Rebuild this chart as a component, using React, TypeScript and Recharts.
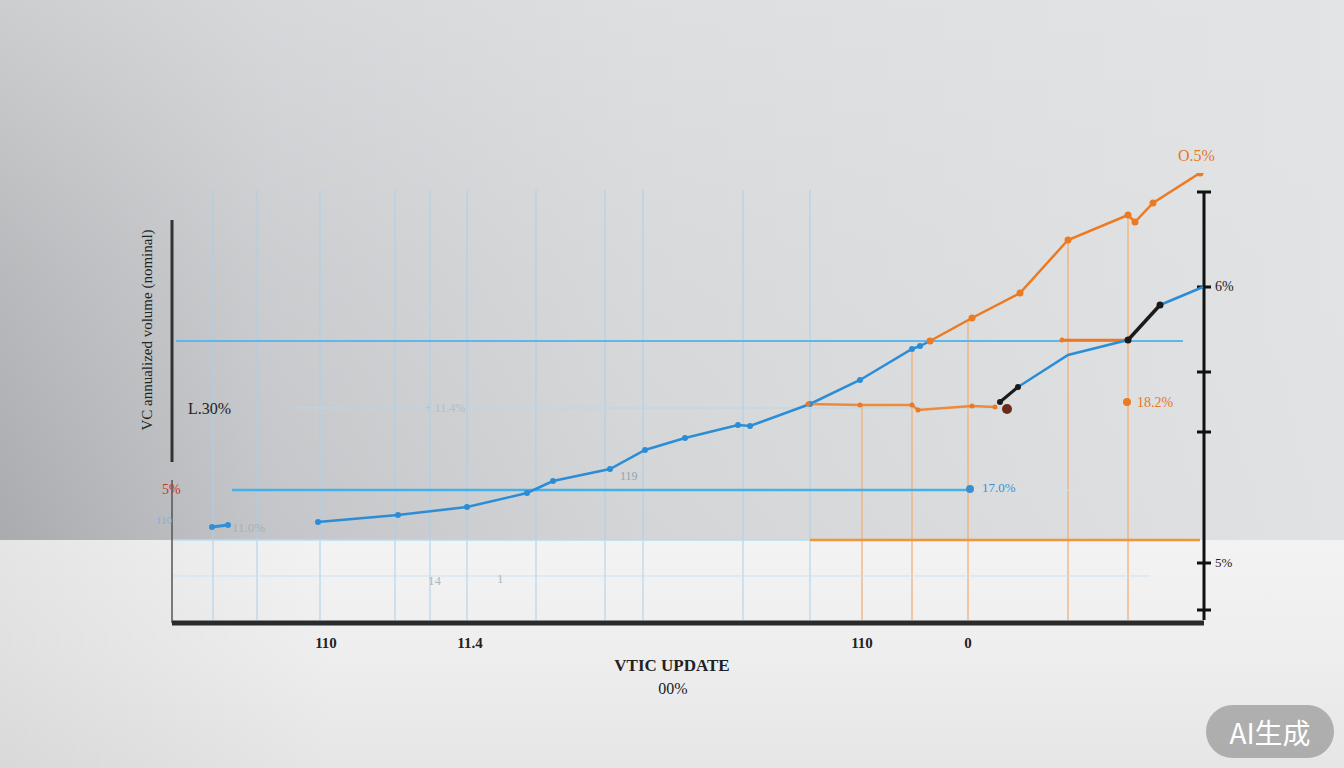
import React from 'react';
import { ComposedChart, Line, XAxis, YAxis, ReferenceLine, ReferenceDot } from 'recharts';

// main blue trend (x = index position, y = value)
const blueStart = [
  { x: 4.0, y: 9.6 },
  { x: 5.6, y: 9.8 },
];
const blueMain = [
  { x: 14.6, y: 10.1 },
  { x: 22.6, y: 10.8 },
  { x: 29.5, y: 11.6 },
  { x: 35.5, y: 13.0 },
  { x: 38.1, y: 14.2 },
  { x: 43.8, y: 15.4 },
  { x: 47.3, y: 17.3 },
  { x: 51.3, y: 18.5 },
  { x: 56.6, y: 19.8 },
  { x: 57.8, y: 19.7 },
  { x: 63.8, y: 21.9 },
  { x: 68.8, y: 24.3 },
  { x: 74.0, y: 27.4 },
  { x: 74.8, y: 27.7 },
  { x: 75.8, y: 28.2 },
];
const orangeUpper = [
  { x: 75.8, y: 28.2 },
  { x: 80.0, y: 30.5 },
  { x: 84.8, y: 33.0 },
  { x: 89.6, y: 38.3 },
  { x: 95.6, y: 40.8 },
  { x: 96.3, y: 40.1 },
  { x: 98.1, y: 42.0 },
  { x: 102.8, y: 45.0 },
];
const orangeLow = [
  { x: 63.6, y: 21.9 },
  { x: 68.8, y: 21.8 },
  { x: 74.0, y: 21.8 },
  { x: 74.6, y: 21.3 },
  { x: 80.0, y: 21.7 },
  { x: 82.3, y: 21.6 },
];
const orangeShort = [
  { x: 89.0, y: 28.3 },
  { x: 95.6, y: 28.3 },
];
const blueRight = [
  { x: 84.6, y: 23.6 },
  { x: 89.6, y: 26.8 },
  { x: 95.6, y: 28.3 },
];
const blueEnd = [
  { x: 98.8, y: 31.8 },
  { x: 103.1, y: 33.6 },
];
const blackA = [
  { x: 82.8, y: 22.1 },
  { x: 84.6, y: 23.6 },
];
const blackB = [
  { x: 95.6, y: 28.3 },
  { x: 98.8, y: 31.8 },
];

const xTicks = [15.4, 29.8, 69, 79.6];
const xTickLabels = ['110', '11.4', '110', '0'];

const blueGrid = [4.1, 8.5, 14.8, 22.3, 25.8, 29.5, 36.4, 43.3, 47.1, 57.1, 63.8];
const orangeGrid = [
  { x: 69.0, top: 21.8 },
  { x: 74.0, top: 27.4 },
  { x: 79.6, top: 30.3 },
  { x: 89.6, top: 38.3 },
  { x: 95.6, top: 40.8 },
];
const rightTicks = [43.1, 33.6, 25.1, 19.1, 6.0, 1.3];

const labels = [
  { x: 1.6, y: 21.5, text: 'L.30%', color: '#222', size: 16 },
  { x: -1.0, y: 13.4, text: '5%', color: '#c23b22', size: 14 },
  { x: -1.6, y: 10.3, text: '110', color: '#7fb3dc', size: 11 },
  { x: 6.0, y: 9.6, text: '11.0%', color: '#a6b1ba', size: 13 },
  { x: 25.3, y: 21.5, text: '+ 11.4%', color: '#b3bec7', size: 12 },
  { x: 44.8, y: 14.7, text: '119', color: '#8fa6b8', size: 12 },
  { x: 25.6, y: 4.3, text: '14', color: '#b0b8bf', size: 13 },
  { x: 32.5, y: 4.5, text: '1', color: '#b0b8bf', size: 13 },
  { x: 81.0, y: 13.6, text: '17.0%', color: '#3a8fd0', size: 13 },
  { x: 96.5, y: 22.1, text: '18.2%', color: '#e8761f', size: 14 },
  { x: 100.6, y: 46.8, text: 'O.5%', color: '#e8761f', size: 16 },
  { x: 104.3, y: 33.7, text: '6%', color: '#222', size: 14 },
  { x: 104.3, y: 6.1, text: '5%', color: '#222', size: 13 },
];

const FONT = '"Liberation Serif", serif';

export default function App() {
  return (
    <div
      style={{
        position: 'absolute',
        left: 0,
        top: 0,
        width: 1344,
        height: 768,
        overflow: 'hidden',
        fontFamily: FONT,
        background:
          'linear-gradient(180deg, rgba(228,229,231,0.6) 0%, rgba(228,229,231,0.25) 35%, rgba(228,229,231,0) 70%), linear-gradient(90deg, #a9abae 0%, #c3c5c8 20%, #d4d5d7 48%, #e1e2e3 100%)',
      }}
    >
      <div
        style={{
          position: 'absolute',
          left: 0,
          top: 540,
          width: 1344,
          height: 228,
          background:
            'linear-gradient(90deg, rgba(0,0,0,0.06), rgba(0,0,0,0) 25%), linear-gradient(180deg, #f3f3f3 0%, #eeeeee 50%, #e6e6e6 100%)',
        }}
      />
      <div style={{ position: 'absolute', left: 0, top: 0 }}>
        <ComposedChart width={1344} height={768} margin={{ top: 173, right: 140, bottom: 115, left: 172 }}>
          <XAxis
            dataKey="x"
            type="number"
            domain={[0, 103.2]}
            allowDataOverflow
            ticks={xTicks}
            tickFormatter={(v: number, i: number) => xTickLabels[i]}
            tickLine={false}
            tickSize={0}
            tickMargin={14}
            axisLine={{ stroke: '#2a2a2a', strokeWidth: 5 }}
            tick={{ fill: '#222', fontSize: 15, fontFamily: FONT, fontWeight: 700 }}
          />
          <YAxis type="number" domain={[0, 45]} allowDataOverflow hide />

          {blueGrid.map((g) => (
            <ReferenceLine
              key={'bg' + g}
              segment={[{ x: g, y: 0.3 }, { x: g, y: 43.3 }]}
              stroke="#aacfe9"
              strokeWidth={1}
              ifOverflow="visible"
            />
          ))}
          {orangeGrid.map((g) => (
            <ReferenceLine
              key={'og' + g.x}
              segment={[{ x: g.x, y: 0.3 }, { x: g.x, y: g.top }]}
              stroke="#f0b07a"
              strokeWidth={1.3}
              ifOverflow="visible"
            />
          ))}

          <ReferenceLine segment={[{ x: 0.4, y: 28.2 }, { x: 101.1, y: 28.2 }]} stroke="#5bb8ea" strokeWidth={2} ifOverflow="visible" />
          <ReferenceLine segment={[{ x: 6.0, y: 13.3 }, { x: 79.8, y: 13.3 }]} stroke="#44b2ea" strokeWidth={2.5} ifOverflow="visible" />
          <ReferenceLine segment={[{ x: 79.8, y: 13.3 }, { x: 94.6, y: 13.3 }]} stroke="#cfe3f0" strokeWidth={1} ifOverflow="visible" />
          <ReferenceLine segment={[{ x: 12, y: 21.5 }, { x: 83, y: 21.5 }]} stroke="#bcd6e8" strokeWidth={1} ifOverflow="visible" />
          <ReferenceLine segment={[{ x: 0, y: 8.3 }, { x: 63.8, y: 8.3 }]} stroke="#b6dcf2" strokeWidth={1.5} ifOverflow="visible" />
          <ReferenceLine segment={[{ x: 63.8, y: 8.3 }, { x: 102.8, y: 8.3 }]} stroke="#f0953a" strokeWidth={2.5} ifOverflow="visible" />
          <ReferenceLine segment={[{ x: 0, y: 4.7 }, { x: 97.8, y: 4.7 }]} stroke="#cfe1ee" strokeWidth={1} ifOverflow="visible" />

          {/* left axis */}
          <ReferenceLine segment={[{ x: 0, y: 40.3 }, { x: 0, y: 16.1 }]} stroke="#333" strokeWidth={3} ifOverflow="visible" />
          <ReferenceLine segment={[{ x: 0, y: 14.3 }, { x: 0, y: 0 }]} stroke="#555" strokeWidth={1.5} ifOverflow="visible" />
          {/* right axis */}
          <ReferenceLine segment={[{ x: 103.2, y: 43.1 }, { x: 103.2, y: 0.3 }]} stroke="#111" strokeWidth={3} ifOverflow="visible" />
          {rightTicks.map((t) => (
            <ReferenceLine
              key={'rt' + t}
              segment={[{ x: 102.5, y: t }, { x: 103.9, y: t }]}
              stroke="#111"
              strokeWidth={3}
              ifOverflow="visible"
            />
          ))}

          <Line data={blueStart} dataKey="y" stroke="#2f8fd8" strokeWidth={3} dot={{ r: 3, fill: '#2f8fd8', stroke: 'none' }} isAnimationActive={false} />
          <Line data={blueMain} dataKey="y" stroke="#2b8dd6" strokeWidth={2.5} dot={{ r: 3, fill: '#2b8dd6', stroke: 'none' }} isAnimationActive={false} />
          <Line data={orangeLow} dataKey="y" stroke="#ee8a3a" strokeWidth={2.5} dot={{ r: 2.5, fill: '#ea7a25', stroke: 'none' }} isAnimationActive={false} />
          <Line data={orangeShort} dataKey="y" stroke="#ec7a22" strokeWidth={2.5} dot={{ r: 2.5, fill: '#ec7a22', stroke: 'none' }} isAnimationActive={false} />
          <Line data={orangeUpper} dataKey="y" stroke="#ec7a22" strokeWidth={2.5} dot={{ r: 3.5, fill: '#ec7a22', stroke: 'none' }} isAnimationActive={false} />
          <Line data={blueRight} dataKey="y" stroke="#2b8dd6" strokeWidth={2.5} dot={false} isAnimationActive={false} />
          <Line data={blueEnd} dataKey="y" stroke="#2b8dd6" strokeWidth={2.5} dot={false} isAnimationActive={false} />
          <Line data={blackA} dataKey="y" stroke="#1a1a1a" strokeWidth={3} dot={{ r: 3, fill: '#1a1a1a', stroke: 'none' }} isAnimationActive={false} />
          <Line data={blackB} dataKey="y" stroke="#1a1a1a" strokeWidth={3.5} dot={{ r: 3.5, fill: '#1a1a1a', stroke: 'none' }} isAnimationActive={false} />

          <ReferenceDot x={83.5} y={21.4} r={5} fill="#6b2a1a" stroke="none" ifOverflow="visible" />
          <ReferenceDot x={79.8} y={13.4} r={4} fill="#3a8fd0" stroke="none" ifOverflow="visible" />
          <ReferenceDot x={95.5} y={22.1} r={4} fill="#ec7a22" stroke="none" ifOverflow="visible" />

          {labels.map((l) => (
            <ReferenceDot
              key={l.text + l.x}
              x={l.x}
              y={l.y}
              r={0}
              fill="none"
              stroke="none"
              ifOverflow="visible"
              label={{ value: l.text, position: 'right', offset: 0, fill: l.color, fontSize: l.size, fontFamily: FONT }}
            />
          ))}
        </ComposedChart>
      </div>

      <div
        style={{
          position: 'absolute',
          left: 147,
          top: 330,
          transform: 'translate(-50%, -50%) rotate(-90deg)',
          whiteSpace: 'nowrap',
          fontSize: 15,
          color: '#222',
        }}
      >
        VC annualized volume (nominal)
      </div>
      <div style={{ position: 'absolute', left: 672, top: 666, transform: 'translate(-50%, -50%)', fontSize: 17, fontWeight: 700, color: '#222', whiteSpace: 'nowrap' }}>
        VTIC UPDATE
      </div>
      <div style={{ position: 'absolute', left: 673, top: 689, transform: 'translate(-50%, -50%)', fontSize: 16, color: '#222' }}>00%</div>
      <div
        style={{
          position: 'absolute',
          left: 1206,
          top: 705,
          width: 128,
          height: 53,
          borderRadius: 27,
          background: 'rgba(125,125,125,0.55)',
          color: '#fff',
          fontSize: 28,
          fontFamily: '"Noto Sans CJK SC", sans-serif',
          display: 'flex',
          alignItems: 'center',
          justifyContent: 'center',
        }}
      >
        AI生成
      </div>
    </div>
  );
}
